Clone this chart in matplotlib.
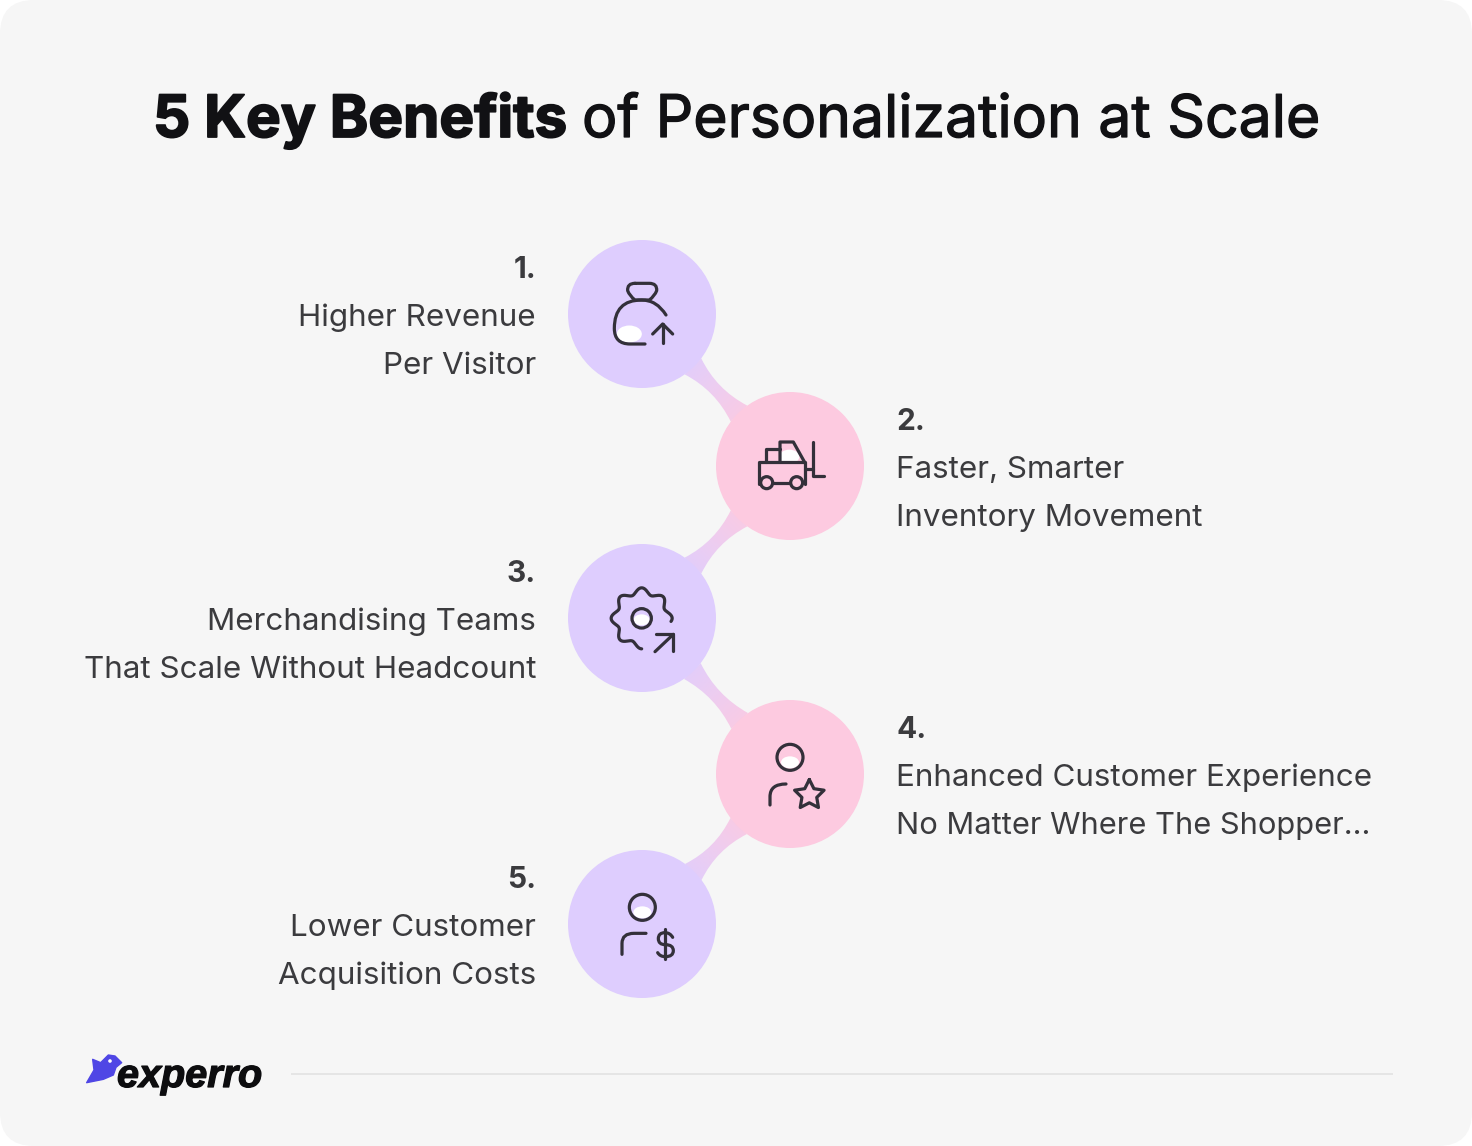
#!/usr/bin/env python3
import numpy as np
import matplotlib
matplotlib.use('Agg')
import matplotlib.pyplot as plt
import matplotlib.patheffects as pe
from matplotlib.colors import LinearSegmentedColormap
from matplotlib.patches import Circle, Ellipse, FancyBboxPatch, PathPatch, Polygon
from matplotlib.path import Path

W, H = 1472, 1146
plt.rcParams['font.family'] = ['Inter', 'DejaVu Sans']

# chart content
title_bold = '5 Key Benefits'
title_rest = 'of Personalization at Scale'
numbers = ['1.', '2.', '3.', '4.', '5.']
line_one = ['Higher Revenue', 'Faster, Smarter', 'Merchandising Teams',
            'Enhanced Customer Experience', 'Lower Customer']
line_two = ['Per Visitor', 'Inventory Movement', 'That Scale Without Headcount',
            'No Matter Where The Shopper\u2026', 'Acquisition Costs']
node_x = [642, 790, 642, 790, 642]
node_y = [314, 466, 618, 774, 924]
node_colors = ['#decdfe', '#fdcae0', '#decdfe', '#fdcae0', '#decdfe']
R = 74
INK = '#33303a'
TEXT = '#3b3b3e'
ICON_LW = 3.2 * 0.72

fig = plt.figure(figsize=(W / 100, H / 100), dpi=100, facecolor='white')
ax = fig.add_axes([0, 0, 1, 1])
ax.set_axis_off()
ax.set_xlim(0, W)
ax.set_ylim(H, 0)

ax.add_patch(FancyBboxPatch((0, 0), W, H, boxstyle='round,pad=0,rounding_size=34',
                            fc='#f6f6f6', ec='none', zorder=0))


def link_cmap(p):
    if p[0] < 700:
        seq = ['#decdfe', '#eecdf0', '#fdcae0']
    else:
        seq = ['#fdcae0', '#eecdf0', '#decdfe']
    return LinearSegmentedColormap.from_list('link', seq)


def connector(p, q):
    p, q = np.array(p, float), np.array(q, float)
    u = (q - p) / np.linalg.norm(q - p)
    n = np.array([-u[1], u[0]])
    hw = 11.5
    off = np.sqrt(R ** 2 - hw ** 2)
    mid = (p + q) / 2
    verts = [p + u * off + n * hw, mid + n * 0.7, q - u * off + n * hw,
             q - u * off - n * hw, mid - n * 0.7, p + u * off - n * hw,
             p + u * off + n * hw]
    codes = [Path.MOVETO, Path.CURVE3, Path.CURVE3, Path.LINETO,
             Path.CURVE3, Path.CURVE3, Path.CLOSEPOLY]
    clip = PathPatch(Path(verts, codes), fc='none', ec='none', zorder=1)
    ax.add_patch(clip)
    # gradient runs along the link, so it is laid out on a small pixel grid
    x0, x1 = min(p[0], q[0]), max(p[0], q[0])
    y0, y1 = min(p[1], q[1]), max(p[1], q[1])
    xs, ys = np.meshgrid(np.linspace(x0, x1, 120), np.linspace(y0, y1, 120))
    t = ((xs - p[0]) * u[0] + (ys - p[1]) * u[1]) / np.linalg.norm(q - p)
    im = ax.imshow(t, extent=(x0, x1, y1, y0), cmap=link_cmap(p), vmin=0.25, vmax=0.75,
                   aspect='auto', zorder=1, interpolation='bilinear')
    im.set_clip_path(clip)


def stroke(verts, codes=None):
    ax.add_patch(PathPatch(Path(verts, codes), fc='none', ec=INK, lw=ICON_LW,
                           capstyle='round', joinstyle='round', zorder=4))


def ring(x, y, r):
    ax.add_patch(Circle((x, y), r, fc='none', ec=INK, lw=ICON_LW, zorder=4))


def blob(x, y, w, h):
    ax.add_patch(Ellipse((x, y), w, h, fc='white', ec='none', zorder=3))


def zm(pts, ox, oy):
    return [(ox + a / 3, oy + b / 3) for a, b in pts]


C3, MV, LN = Path.CURVE3, Path.MOVETO, Path.LINETO

for i in range(4):
    connector((node_x[i], node_y[i]), (node_x[i + 1], node_y[i + 1]))
ax.set_xlim(0, W)
ax.set_ylim(H, 0)

for x, y, c in zip(node_x, node_y, node_colors):
    ax.add_patch(Circle((x, y), R, fc=c, ec='none', zorder=2))

# icon 1: money bag with arrow
ox, oy = 560, 230
blob(*zm([(208, 312)], ox, oy)[0], 25, 17)
stroke(zm([(225, 160), (268, 160), (292, 160), (290, 182), (284, 198), (268, 210), (225, 210),
           (209, 198), (203, 182), (201, 160), (225, 160)], ox, oy),
       [MV, LN, C3, C3, C3, C3, LN, C3, C3, C3, C3])
stroke(zm([(318, 255), (290, 210), (245, 210), (163, 210), (163, 295), (163, 342),
           (210, 342), (255, 342)], ox, oy), [MV, C3, C3, C3, C3, C3, C3, LN])
stroke(zm([(308, 340), (308, 282)], ox, oy))
stroke(zm([(278, 312), (308, 282), (338, 312)], ox, oy))

# icon 2: forklift
blob(*zm([(688, 680)], ox, oy)[0], 20, 14)
stroke(zm([(598, 762), (598, 695), (735, 695), (735, 762)], ox, oy))
stroke(zm([(618, 695), (618, 658), (660, 658)], ox, oy))
stroke(zm([(660, 695), (660, 636), (700, 636), (733, 695)], ox, oy))
stroke(zm([(760, 635), (760, 738), (793, 738)], ox, oy))
stroke(zm([(735, 716), (760, 716)], ox, oy))
stroke(zm([(640, 758), (690, 758)], ox, oy))
for a, b in zm([(620, 758), (710, 758)], ox, oy):
    ax.add_patch(Circle((a, b), 6, fc=node_colors[1], ec=INK, lw=ICON_LW, zorder=4))

# icon 3: gear with arrow
ox, oy = 560, 540
gx, gy = zm([(245, 235)], ox, oy)[0]
ang = np.radians(np.linspace(-6, 270, 300))
rad = 27.5 + 3.0 * np.cos(8 * ang)
stroke(np.column_stack([gx + rad * np.cos(ang), gy - rad * np.sin(ang)]))
blob(gx, gy + 1.5, 16, 11)
ring(gx, gy, 9.7)
stroke(zm([(285, 335), (340, 283)], ox, oy))
stroke(zm([(288, 283), (340, 283), (340, 332)], ox, oy))

# icon 4: person with star
hx, hy = zm([(690, 652)], ox, oy)[0]
blob(hx, hy + 5, 18, 12)
ring(hx, hy, 13)
stroke(zm([(630, 795), (630, 770), (630, 732), (678, 732)], ox, oy), [MV, LN, C3, C3])
sx, sy = zm([(748, 765)], ox, oy)[0]
star_a = np.radians(90 + 36 * np.arange(11))
star_r = np.where(np.arange(11) % 2 == 0, 15.5, 7.8)
stroke(np.column_stack([sx + star_r * np.cos(star_a), sy - star_r * np.sin(star_a)]))

# icon 5: person with dollar sign
ox, oy = 560, 840
hx, hy = zm([(247, 202)], ox, oy)[0]
blob(hx, hy + 5, 18, 12)
ring(hx, hy, 13)
stroke(zm([(186, 343), (186, 310), (186, 280), (222, 280), (258, 280)], ox, oy), [MV, LN, C3, C3, LN])
stroke(zm([(338, 292), (330, 278), (315, 278), (295, 278), (295, 296), (295, 314), (316, 314),
           (340, 314), (340, 332), (340, 350), (316, 350), (300, 350), (293, 338)], ox, oy),
       [MV] + [C3] * 12)
stroke(zm([(315, 268), (315, 356)], ox, oy))

# text blocks
for i in range(5):
    cy = node_y[i]
    if i % 2 == 0:
        tx, ha = 536, 'right'
    else:
        tx, ha = 896, 'left'
    ax.text(tx, cy - 44, numbers[i], ha=ha, va='center', fontsize=21.5, fontweight='bold', color=TEXT)
    ax.text(tx, cy + 4, line_one[i], ha=ha, va='center', fontsize=22.6, color=TEXT)
    ax.text(tx, cy + 52, line_two[i], ha=ha, va='center', fontsize=22.2 if i == 3 else 22.6, color=TEXT)

# title in two weights, thickened a little because the original face is heavier
t1 = ax.text(153, 137, title_bold, ha='left', va='baseline', fontsize=42, fontweight='bold', color='#111114',
             path_effects=[pe.withStroke(linewidth=1.3, foreground='#111114')])
fig.canvas.draw()
bb = t1.get_window_extent(fig.canvas.get_renderer())
ax.text(582, 137, title_rest, ha='left', va='baseline', fontsize=42.4, color='#111114',
        path_effects=[pe.withStroke(linewidth=0.9, foreground='#111114')])

# logo and footer rule
bird = [(50, 128), (72, 90), (68, 58), (92, 68), (115, 45), (135, 48), (155, 68),
        (138, 82), (130, 105), (100, 118)]
ax.add_patch(Polygon(zm(bird, 70, 1040), closed=True, fc='#4f46e5', ec='#4f46e5', lw=1, joinstyle='round', zorder=3))
ax.add_patch(Circle(zm([(120, 63)], 70, 1040)[0], 1.8, fc='white', ec='none', zorder=4))
ax.text(117, 1087, 'experro', ha='left', va='baseline', fontsize=28.5, family='Liberation Sans',
        fontweight='bold', style='italic', color='#0d0d0f',
        path_effects=[pe.withStroke(linewidth=0.9, foreground='#0d0d0f')])
ax.plot([292, 1392], [1074, 1074], color='#e5e5e5', lw=1.4, zorder=1)

fig.savefig('out.png', dpi=100, facecolor='white')
